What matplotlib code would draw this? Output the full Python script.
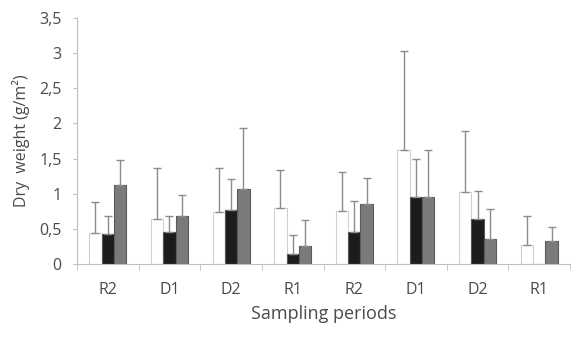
import numpy as np
import matplotlib.pyplot as plt
from matplotlib.ticker import FixedLocator

# sampling periods along the x axis
periods = ['R2', 'D1', 'D2', 'R1', 'R2', 'D1', 'D2', 'R1']

# mean dry weight (g/m2) of the three series, and the upper error size
white_vals = [0.44, 0.64, 0.74, 0.80, 0.76, 1.62, 1.02, 0.27]
white_err = [0.44, 0.72, 0.63, 0.54, 0.55, 1.41, 0.87, 0.42]
black_vals = [0.43, 0.46, 0.77, 0.14, 0.45, 0.96, 0.64, 0.0]
black_err = [0.25, 0.22, 0.44, 0.27, 0.45, 0.54, 0.40, 0.0]
grey_vals = [1.12, 0.68, 1.07, 0.26, 0.86, 0.96, 0.35, 0.33]
grey_err = [0.36, 0.30, 0.87, 0.37, 0.36, 0.66, 0.43, 0.20]

text_col = '#4a4a4a'
plt.rcParams['font.family'] = ['Open Sans', 'DejaVu Sans']

fig = plt.figure(figsize=(5.78, 3.37), dpi=100)
ax = fig.add_axes([0.1332, 0.2166, 0.853, 0.730])

x = np.arange(len(periods)) + 0.5
w = 0.2
err_kw = dict(ecolor='#8c8c8c', elinewidth=1.0, capsize=3, capthick=1.0)

ax.bar(x - 1.5 * w, white_vals, w, align='edge', color='white', edgecolor='#cfcfcf', linewidth=0.8)
ax.errorbar(x - w, white_vals, yerr=[np.zeros(8), white_err], fmt='none', **err_kw)

ax.bar(x - 0.5 * w, black_vals, w, align='edge', color='#1c1c1c', edgecolor='#555555', linewidth=0.8)
bx = [xi for xi, e in zip(x, black_err) if e > 0]
by = [v for v, e in zip(black_vals, black_err) if e > 0]
be = [e for e in black_err if e > 0]
ax.errorbar(np.array(bx), by, yerr=[np.zeros(len(be)), be], fmt='none', **err_kw)

ax.bar(x + 0.5 * w, grey_vals, w, align='edge', color='#7a7a7a', edgecolor='#5a5a5a', linewidth=0.8)
ax.errorbar(x + w, grey_vals, yerr=[np.zeros(8), grey_err], fmt='none', **err_kw)

ax.set_xlim(0, len(periods))
ax.set_ylim(0, 3.5)
ax.set_xticks(x)
ax.set_xticklabels(periods)
ax.xaxis.set_minor_locator(FixedLocator(np.arange(len(periods) + 1)))
ax.tick_params(axis='x', which='major', length=0, pad=13, labelsize=11.5, labelcolor=text_col)
ax.tick_params(axis='x', which='minor', length=4, color='#bfbfbf', direction='out')

yt = np.arange(0, 3.51, 0.5)
ax.set_yticks(yt)
ax.set_yticklabels([f'{v:g}'.replace('.', ',') for v in yt])
ax.tick_params(axis='y', length=3, color='#bfbfbf', pad=8, labelsize=11.5, labelcolor=text_col)

for s in ['top', 'right']:
    ax.spines[s].set_visible(False)
for s in ['left', 'bottom']:
    ax.spines[s].set_color('#bfbfbf')

ax.set_xlabel('Sampling periods', fontsize=13, color=text_col, labelpad=5)
ax.set_ylabel('Dry  weight (g/m\u00b2)', fontsize=11.5, color=text_col, labelpad=7)

fig.savefig('out.png', dpi=100)
